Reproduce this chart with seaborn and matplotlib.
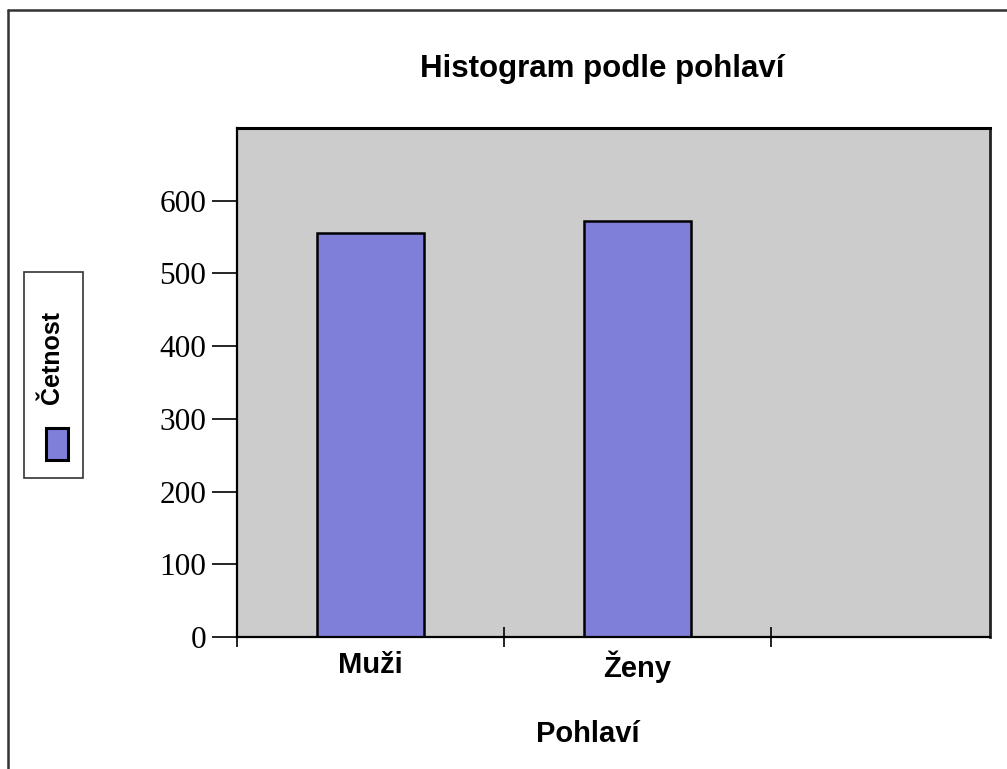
import matplotlib
matplotlib.use("Agg")
import matplotlib.pyplot as plt
import seaborn as sns
import pandas as pd
from matplotlib.patches import Rectangle
from matplotlib.lines import Line2D

categories = ["Muži", "Ženy"]
counts = [556, 572]
yticks = [0, 100, 200, 300, 400, 500, 600]
title = "Histogram podle pohlaví"
xlabel = "Pohlaví"
legend_label = "Četnost"

bar_color = "#7f7fd9"
bg_color = "#cccccc"

sns.set_theme(style="white")
plt.rcParams['font.family'] = ['Liberation Sans', 'DejaVu Sans']
plt.rcParams['text.color'] = 'black'
plt.rcParams['axes.labelcolor'] = 'black'
plt.rcParams['xtick.color'] = 'black'
plt.rcParams['ytick.color'] = 'black'

W, H = 1007, 769
fig = plt.figure(figsize=(W / 100, H / 100), dpi=100)
ax = fig.add_axes([237 / W, 1 - 637 / H, (990 - 237) / W, (637 - 128) / H])
ax.set_facecolor(bg_color)

df = pd.DataFrame({"cat": categories, "n": counts})
sns.barplot(data=df, x="cat", y="n", ax=ax, color=bar_color, width=0.40,
            edgecolor="black", linewidth=1.8, saturation=1)

ax.set_xlim(-0.5, 2.32)
ax.set_ylim(0, 700)

ax.set_yticks(yticks)
ax.set_yticklabels([str(v) for v in yticks], fontfamily="Liberation Serif", fontsize=22.5)
ax.tick_params(axis="y", which="major", direction="out", length=18, width=1.2,
               color="black", pad=4, left=True, labelcolor="black")

ax.set_xticks([-0.5, 0.5, 1.5])
ax.set_xticklabels([])
ax.set_xticks([0, 1], minor=True)
ax.set_xticklabels(categories, minor=True, fontsize=21, fontweight="bold")
ax.tick_params(axis="x", which="major", direction="inout", length=14, width=1.2,
               color="black", bottom=True)
ax.tick_params(axis="x", which="minor", length=0, pad=10, labelcolor="black")

for side in ["left", "bottom", "top"]:
    ax.spines[side].set_color("black")
    ax.spines[side].set_linewidth(1.6)
ax.spines["top"].set_linewidth(2.2)
ax.spines["right"].set_color("#222222")
ax.spines["right"].set_linewidth(2.0)

ax.set_xlabel(xlabel, fontsize=21, fontweight="bold", va="baseline")
ax.xaxis.set_label_coords((588 - 237) / 753, -(742 - 637) / 509)
ax.set_ylabel("")

fig.text(602 / W, 1 - 77 / H, title, ha="center", va="baseline", fontsize=22.5,
         fontweight="bold")

# legend box (rotated), drawn in figure coordinates
fig.patches.append(Rectangle((24 / W, 1 - 478 / H), (83 - 24) / W, (478 - 272) / H,
                             transform=fig.transFigure, facecolor="white",
                             edgecolor="#333333", linewidth=1.2))
fig.patches.append(Rectangle((46 / W, 1 - 460 / H), (68 - 46) / W, (460 - 428) / H,
                             transform=fig.transFigure, facecolor=bar_color,
                             edgecolor="black", linewidth=2.2))
fig.text(52 / W, 1 - 358 / H, legend_label, rotation=90, ha="center", va="center",
         fontsize=18, fontweight="bold")

# outer frame (top and left edges)
fig.add_artist(Line2D([8 / W, 1.0], [1 - 10 / H, 1 - 10 / H], transform=fig.transFigure,
                      color="#333333", linewidth=1.8))
fig.add_artist(Line2D([8 / W, 8 / W], [0, 1 - 10 / H], transform=fig.transFigure,
                      color="#333333", linewidth=1.8))

fig.savefig("out.png", dpi=100)
